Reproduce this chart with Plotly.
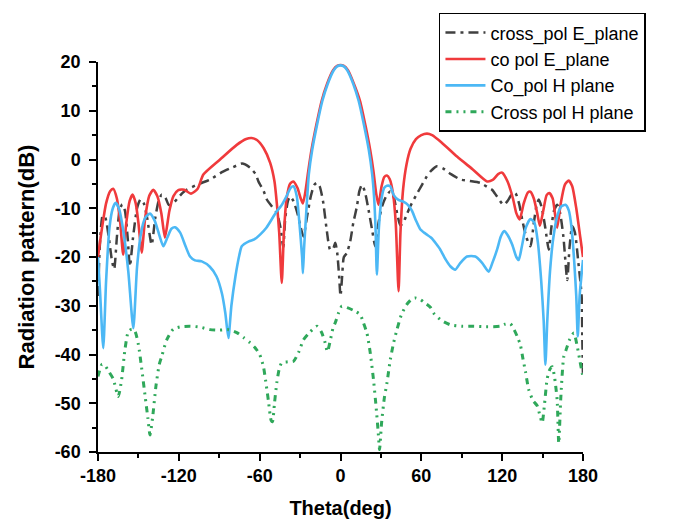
import plotly.graph_objects as go

# ---- co pol, E plane ----
co_e_theta = [-180, -177, -174, -171, -168.7, -166, -163.5, -161.3, -159, -156.5, -154.3, -152, -150,
              -147.6, -145, -142, -139, -136, -133, -130.3, -127, -124, -120.4, -116, -111, -106,
              -101.8, -89.4, -77, -70, -66, -62, -57, -52.2, -49, -47.3, -45.5, -43.6, -42, -40,
              -37.5, -35, -32, -29.5, -27.9, -26, -24, -21.5, -18, -14, -10, -5.5, -2.5, 0, 2.5,
              5.5, 10, 14.5, 18.5, 22, 24.5, 26.5, 28.2, 30.5, 32.5, 34.5, 36.5, 39, 41, 43.1,
              44.5, 46.5, 49, 52, 56, 60, 64.2, 68, 75, 86.5, 98, 108.8, 113, 117, 120, 124, 128,
              130.5, 133, 136, 139, 141, 143.5, 146, 148, 150.5, 153, 155, 157.5, 160.8, 163.5,
              166.5, 169.4, 172, 175, 178, 180]
co_e_db = [-20, -14, -9, -6.5, -6.0, -8, -13, -19.5, -13, -8.5, -7.2, -9, -13,
           -19.1, -12, -7.5, -6.2, -7.5, -11, -16, -10.5, -7.5, -6.3, -6.2, -7.0, -6.0,
           -3.1, 0.0, 3.0, 4.2, 4.4, 4.0, 2.3, -0.7, -4.5, -8.9, -15, -25.3, -15, -8,
           -5, -4.5, -5.8, -8, -9.0, -6.5, -2.5, 2.0, 7.0, 12.0, 15.5, 18.3, 19.2, 19.4, 19.2,
           18.3, 15.5, 12.0, 7.0, 2.0, -2.5, -7, -9.3, -5.5, -3.6, -3.3, -4.0, -7, -13, -27,
           -15, -6, -1, 2.2, 4.2, 5.0, 5.3, 5.0, 3.5, 0.6, -2.0, -4.5, -4.2, -3.0, -2.7, -4.5, -8,
           -11, -12.3, -9, -6.8, -6.6, -8, -11, -13.6, -10.5, -7.3, -6.9, -8, -14, -9,
           -5.2, -4.3, -5.5, -10, -16, -20]

# ---- co pol, H plane ----
co_h_theta = [-180, -178.5, -176.1, -174, -171.5, -169, -166.9, -164.5, -161, -157.5, -153.8, -151,
              -148, -145, -141.4, -138, -134.5, -131.5, -128.5, -125.5, -122.8, -119, -115, -111.7,
              -108, -103, -97, -92, -88, -85.5, -83.2, -81, -78, -75, -73.3, -68, -64, -59.7, -55,
              -50, -47.3, -44, -40, -37, -34.9, -32.5, -30.5, -28.5, -27.9, -27, -25, -23.5, -21,
              -17.5, -13.5, -9.5, -5, -2.5, 0, 2.5, 5, 9.5, 13.5, 17.5, 21, 23.5, 25, 26, 27, 28.5,
              30.5, 32.5, 34.5, 36.9, 39.5, 43, 47, 50, 53, 56, 59.2, 63, 67.9, 71, 74.1, 78, 81.5,
              85.2, 89, 93.9, 100.1, 105.1, 110, 113, 116.2, 119, 121.5, 124, 127.5, 130.5, 132.3,
              134.5, 137.5, 141, 144, 146.5, 149, 150.8, 152.1, 153.5, 155.5, 158, 161, 164, 167,
              169.5, 171.5, 173.5, 175, 176.1, 177.5, 180]
co_h_db = [-20, -27, -38.7, -25, -14, -10, -8.9, -10, -15, -23, -34.6, -22,
           -15, -12, -11.1, -12.5, -15.5, -17.8, -16, -14.2, -13.9, -15, -17.8, -19.9,
           -20.7, -20.9, -22, -24.0, -27.5, -31.5, -36.6, -30, -24, -19.5, -17.8, -16.8, -16.4, -15.4, -14,
           -11.8, -10.6, -9.5, -7.5, -5.8, -5.5, -7.5, -13, -20, -23.3, -18, -9, -3, 2.0,
           7.0, 12.0, 15.5, 18.3, 19.1, 19.3, 19.1, 18.3, 15.5, 12.0, 7.0, 2.0, -3, -8, -14, -23.6, -14,
           -8, -5.8, -5.4, -5.5, -7.3, -8.3, -8.7, -9.3, -10.5, -12.5, -14.3, -15.2, -16.2, -17.3, -18.5, -20.5, -21.9,
           -22.6, -21.2, -19.9, -19.9, -21.2, -23, -21, -18.5, -15.8, -14.7, -15.5, -17.5, -20, -20.6,
           -18, -14, -12.2, -13, -17, -25, -33, -42.1, -33, -23, -16, -11.5, -9.6, -9.3,
           -10.5, -14, -21, -28, -36.3, -28, -20.6]

# ---- cross pol, E plane ----
cx_e_theta = [-180, -178.5, -176.5, -174.5, -172, -169.5, -168, -166, -164, -162, -160, -158, -156.3,
              -154, -151, -148.5, -146, -143.5, -140.2, -137.5, -135, -132.7, -130, -127.5, -125.3,
              -121, -117, -114.2, -105, -96.8, -88, -80, -73, -70.8, -67, -63, -60.9, -57, -54.7,
              -51, -47.3, -44.5, -42.5, -41, -39, -37.4, -35, -32, -29.5, -27.5, -25, -22, -19.5,
              -17.5, -15.5, -13, -10.1, -7.7, -5.5, -3.9, -2.5, -1, 0, 1.2, 2.5, 4.7, 7.2, 9.5, 12.2,
              14, 15.9, 18, 20.8, 23.5, 25.8, 28.2, 31, 34, 37, 39.4, 42, 44.4, 46.5, 49.3, 51.8, 56,
              60.5, 64, 67, 71.6, 76, 82, 89, 96, 103.8, 110, 112.5, 116.2, 121, 124, 127, 129.8,
              132.5, 135, 138, 141, 143.5, 145.5, 147.2, 149.5, 152, 154.6, 156.5, 158.5, 160.8, 163,
              165.5, 168.3, 170, 172, 174, 176.5, 179, 179.5, 180]
cx_e_db = [-28, -17, -11.5, -12, -16, -21, -22.5, -16, -10.5, -9.2, -10.5, -16, -21.9,
           -16, -10, -8.2, -9, -12, -17.5, -12, -8.5, -7.2, -7.8, -9.3, -9.3,
           -8, -6.8, -6.2, -5.0, -4.1, -2.6, -1.6, -0.8, -1.0, -1.7, -3, -4.5, -6.5, -8.2,
           -9.6, -11, -14, -18, -12, -8.5, -7.6, -8.5, -11, -14, -15.8, -12, -7.5, -5.2,
           -4.8, -5.5, -8.5, -14.7, -18.5, -18.3, -17.1, -19, -24, -28, -24, -20, -19.2, -16.8, -13, -9.6,
           -6.5, -5.2, -6.5, -10.3, -14.5, -17.8, -13, -9.5, -7.5, -6.5, -7.6, -11, -13.5, -13, -11.2, -9.6, -7.4,
           -5.2, -3.5, -2.4, -1.4, -1.8, -3.0, -4.1, -4.4, -4.8, -5.8, -6.2, -7.6, -9.3, -8.5, -7.2, -6.9,
           -9, -12.5, -16, -17.8, -13, -9.5, -8.2, -10, -14, -18.5, -14, -10.5, -9.3, -11,
           -16, -24.7, -18, -13.7, -15, -21, -28, -37, -44.5]

# ---- cross pol, H plane ----
cx_h_theta = [-180, -177, -175, -172, -168.7, -165, -162.5, -160, -157.5, -155, -152.5, -150, -147.5,
              -145, -143, -141.4, -139.5, -137, -134.5, -132.7, -129, -124.1, -118, -111.7, -104,
              -96.8, -90, -83.2, -77, -72, -67.1, -63.4, -60, -57.2, -55.5, -53.5, -51.5, -50.5, -49,
              -47.3, -45.5, -43.6, -39, -34.9, -31, -27.5, -23, -17.5, -14, -11.5, -9.7, -7.5, -5.5,
              -3.9, -1.5, 1, 5, 10, 14.6, 17, 19.6, 22, 24.5, 26.5, 28, 29, 30.5, 32.5, 34.5, 37,
              39.5, 41.9, 45, 49, 53, 55.5, 59, 62, 66.7, 69.1, 75, 81.5, 90, 98.8, 108, 118.7, 122,
              126.1, 129, 131.5, 133.5, 135.5, 137.3, 139.7, 143, 146, 148, 149.7, 151.5, 153.4,
              155.5, 157.1, 158.8, 160.8, 162, 163.5, 165.7, 167.5, 170, 173.2, 175.5, 177.5, 179.4, 180]
cx_h_db = [-44.5, -42, -42.2, -43.5, -45, -48.6, -45.2, -39, -35.3, -34.8, -35.3, -38, -43,
           -48.6, -53, -56.5, -53, -46.5, -42, -40.4, -37, -34.8, -34.3, -34.2, -34.4,
           -34.9, -35, -34.9, -35.5, -36.5, -37.6, -38.6, -40, -42.5, -45.5, -49.5, -53.5, -53.8, -50,
           -45.8, -43, -41.7, -41.5, -41.4, -39.5, -37, -35.5, -34.2, -35.5, -37.5, -39.4, -37, -34.5,
           -33.5, -31.5, -30.1, -30.4, -31, -31.8, -33.5, -35.6, -39.5, -45.2, -51, -56, -59.5, -54, -49, -45.8, -41,
           -37.5, -34.9, -32, -29.8, -28.6, -28.4, -28.7, -29.3, -30.3, -31.5, -33, -33.9, -34.2, -34.2, -34.3, -34.2, -33.8,
           -33.7, -35, -36.5, -38, -41, -43.5, -47.2, -49.5, -50.5, -52.5, -54, -50, -45,
           -43, -42.5, -44.5, -49.3, -58.2, -49, -40.5, -39, -37, -35.6, -38, -41, -43.8, -44.5]

x_ticks = [-180, -120, -60, 0, 60, 120, 180]
y_ticks = [-60, -50, -40, -30, -20, -10, 0, 10, 20]

series = [
    ("cross_pol E_plane", cx_e_theta, cx_e_db, "#404040", "10px,5px,3px,5px", 2.5),
    ("co pol E_plane", co_e_theta, co_e_db, "#F03A3C", "solid", 2.6),
    ("Co_pol H plane", co_h_theta, co_h_db, "#4CB8F5", "solid", 2.6),
    ("Cross pol H plane", cx_h_theta, cx_h_db, "#2FA85A", "6px,5px,2px,5px,2px,5px", 3),
]

FONT = "Liberation Sans, Arial, sans-serif"

fig = go.Figure()
for name, th, db, color, dash, width in series:
    fig.add_trace(go.Scatter(
        x=th, y=db, mode="lines", name=name,
        line=dict(color=color, dash=dash, width=width, shape="spline", smoothing=0.6),
    ))

axis_font = dict(family=FONT, size=18, color="black")

fig.update_layout(
    width=676, height=519,
    margin=dict(l=98, r=93, t=62, b=67),
    paper_bgcolor="white", plot_bgcolor="white",
    font=dict(family=FONT, color="black"),
    showlegend=True,
    legend=dict(
        x=0.703, y=1.126, xanchor="left", yanchor="top",
        bgcolor="white", bordercolor="black", borderwidth=1.5,
        font=dict(family=FONT, size=18, color="black"),
        itemwidth=40, tracegroupgap=0,
    ),
)

fig.update_xaxes(
    range=[-180, 180], tickvals=x_ticks, ticktext=[f"<b>{v}</b>" for v in x_ticks],
    automargin=False, ticklabelstandoff=0,
    showgrid=False, zeroline=False, showline=True, linecolor="black", linewidth=1.5,
    ticks="outside", ticklen=7, tickwidth=1.5, tickcolor="black",
    minor=dict(tickvals=[-150, -90, -30, 30, 90, 150], ticks="outside", ticklen=4,
               tickwidth=1.5, tickcolor="black", showgrid=False),
    tickfont=axis_font,
    title=dict(text="<b>Theta(deg)</b>", font=dict(family=FONT, size=20, color="black"), standoff=17),
)
fig.update_yaxes(
    range=[-60, 20], tickvals=y_ticks, ticktext=[f"<b>{v}</b>" for v in y_ticks],
    automargin=False, ticklabelstandoff=5,
    showgrid=False, zeroline=False, showline=True, linecolor="black", linewidth=1.5,
    ticks="outside", ticklen=7, tickwidth=1.5, tickcolor="black",
    minor=dict(tickvals=[-55, -45, -35, -25, -15, -5, 5, 15], ticks="outside", ticklen=4,
               tickwidth=1.5, tickcolor="black", showgrid=False),
    tickfont=axis_font,
    title=dict(text="<b>Radiation pattern(dB)</b>", font=dict(family=FONT, size=22, color="black"), standoff=14),
)

fig.write_html("out.html")
